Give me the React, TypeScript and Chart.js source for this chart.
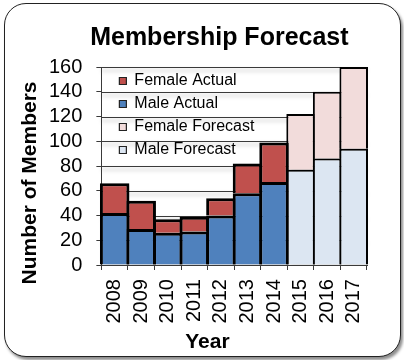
import React, { useEffect, useRef } from "react";
import { Chart, registerables } from "chart.js";

Chart.register(...registerables);

const years = ["2008", "2009", "2010", "2011", "2012", "2013", "2014", "2015", "2016", "2017"];
const maleActual = [42, 29, 26, 27, 40, 58, 67, null, null, null];
const femaleActual = [24, 23, 11, 12, 14, 24, 32, null, null, null];
const maleForecast = [null, null, null, null, null, null, null, 77, 86, 94];
const femaleForecast = [null, null, null, null, null, null, null, 45, 54, 66];
const yTickValues = [0, 20, 40, 60, 80, 100, 120, 140, 160];
const legendOrder = ["Female Actual", "Male Actual", "Female Forecast", "Male Forecast"];

const chartTitle = "Membership Forecast";
const xTitle = "Year";
const yTitle = "Number of Members";

const FONT = "'Liberation Sans', Arial, sans-serif";
const INK = "#000";
const RULE = "#3a3a3a";

// Horizontal value rules with a soft drop shadow under each line.
const gridShadowPlugin = {
  id: "gridShadow",
  beforeDraw(chart: any) {
    const { ctx, chartArea } = chart;
    const y = chart.scales.y;
    ctx.save();
    ctx.strokeStyle = RULE;
    ctx.lineWidth = 1;
    ctx.shadowColor = "rgba(0,0,0,0.35)";
    ctx.shadowBlur = 4;
    ctx.shadowOffsetY = 3;
    yTickValues.forEach((v) => {
      if (v === 0) return;
      const py = Math.round(y.getPixelForValue(v)) + 0.5;
      ctx.beginPath();
      ctx.moveTo(chartArea.left, py);
      ctx.lineTo(chartArea.right, py);
      ctx.stroke();
    });
    ctx.restore();
  },
};

// Soft shadow cast by the bars.
const barShadowPlugin = {
  id: "barShadow",
  beforeDatasetsDraw(chart: any) {
    const ctx = chart.ctx;
    ctx.save();
    ctx.shadowColor = "rgba(0,0,0,0.3)";
    ctx.shadowBlur = 6;
    ctx.shadowOffsetX = 3;
    ctx.shadowOffsetY = 2;
  },
  afterDatasetsDraw(chart: any) {
    chart.ctx.restore();
  },
};

// Places the legend inside the plot, just off the upper-left corner.
const legendPlacePlugin = {
  id: "legendPlace",
  afterLayout(chart: any) {
    const lg = chart.legend;
    if (!lg) return;
    const a = chart.chartArea;
    lg.left = a.left + 11;
    lg.right = a.right;
    lg.top = a.top - 1;
    lg.bottom = a.bottom;
  },
};

// Chart title and axis titles, centred over the plot including its tick labels.
const titlesPlugin = {
  id: "titles",
  afterDraw(chart: any) {
    const { ctx, chartArea } = chart;
    ctx.save();
    ctx.fillStyle = INK;
    ctx.textAlign = "center";
    ctx.textBaseline = "alphabetic";

    ctx.font = `bold 25px ${FONT}`;
    ctx.fillText(chartTitle, chartArea.left + 118, chartArea.top - 22);

    ctx.font = `bold 21px ${FONT}`;
    ctx.fillText(xTitle, chartArea.left + 106, chartArea.bottom + 83);

    ctx.translate(chartArea.left - 65, chartArea.top + 116);
    ctx.rotate(-Math.PI / 2);
    ctx.fillText(yTitle, 0, 0);
    ctx.restore();
  },
};

export default function App() {
  const ref = useRef<HTMLCanvasElement>(null);

  useEffect(() => {
    const canvas = ref.current;
    if (!canvas) return;

    const tickFont = { family: FONT, size: 20 };

    const chart = new Chart(canvas, {
      type: "bar",
      data: {
        labels: years,
        datasets: [
          { label: "Male Actual", data: maleActual, backgroundColor: "#4F81BD", borderColor: INK, borderWidth: 3, barPercentage: 1.11, categoryPercentage: 1, stack: "members", clip: false },
          { label: "Female Actual", data: femaleActual, backgroundColor: "#C0504D", borderColor: INK, borderWidth: 3, barPercentage: 1.11, categoryPercentage: 1, stack: "members", clip: false },
          { label: "Male Forecast", data: maleForecast, backgroundColor: "#DCE6F2", borderColor: INK, borderWidth: 2, barPercentage: 1.075, categoryPercentage: 1, stack: "members", clip: false },
          { label: "Female Forecast", data: femaleForecast, backgroundColor: "#F2DCDB", borderColor: INK, borderWidth: 2, barPercentage: 1.075, categoryPercentage: 1, stack: "members", clip: false },
        ] as any,
      },
      options: {
        responsive: false,
        animation: false,
        events: [],
        layout: { padding: { left: 35, top: 67, right: 37, bottom: 27.5 } },
        scales: {
          x: {
            stacked: true,
            ticks: { font: tickFont, color: INK, minRotation: 90, maxRotation: 90, padding: 9, autoSkip: false },
            grid: { offset: true, drawOnChartArea: false, drawTicks: true, tickLength: 5, color: RULE },
            border: { color: RULE, width: 1 },
          },
          y: {
            stacked: true,
            min: 0,
            max: 160,
            afterBuildTicks: (axis: any) => {
              axis.ticks = yTickValues.map((value) => ({ value }));
            },
            ticks: { font: tickFont, color: INK, padding: 14, autoSkip: false },
            grid: { drawOnChartArea: false, drawTicks: true, tickLength: 5, color: RULE },
            border: { color: RULE, width: 1 },
          },
        },
        plugins: {
          title: { display: false },
          tooltip: { enabled: false },
          legend: {
            position: "chartArea",
            align: "start",
            fullSize: false,
            labels: {
              boxWidth: 7,
              boxHeight: 7,
              padding: 7,
              color: INK,
              font: { family: FONT, size: 16 },
              sort: (a: any, b: any) => legendOrder.indexOf(a.text) - legendOrder.indexOf(b.text),
              generateLabels: (c: any) =>
                (Chart.defaults.plugins.legend.labels as any)
                  .generateLabels(c)
                  .map((l: any) => ({ ...l, lineWidth: 1.2, strokeStyle: "#222" })),
            },
          },
        },
      } as any,
      plugins: [gridShadowPlugin, barShadowPlugin, legendPlacePlugin, titlesPlugin],
    });

    return () => chart.destroy();
  }, []);

  return (
    <div style={{ position: "absolute", left: 0, top: 0, width: 404, height: 360, background: "#fff" }}>
      <div
        style={{
          position: "absolute",
          left: 4,
          top: 3,
          width: 397,
          height: 354,
          boxSizing: "border-box",
          border: "1.5px solid #222",
          borderRadius: 22,
          boxShadow: "2px 3px 3px rgba(0,0,0,0.45)",
          background: "#fff",
        }}
      />
      <canvas ref={ref} width={404} height={360} style={{ position: "absolute", left: 0, top: 0 }} />
    </div>
  );
}
